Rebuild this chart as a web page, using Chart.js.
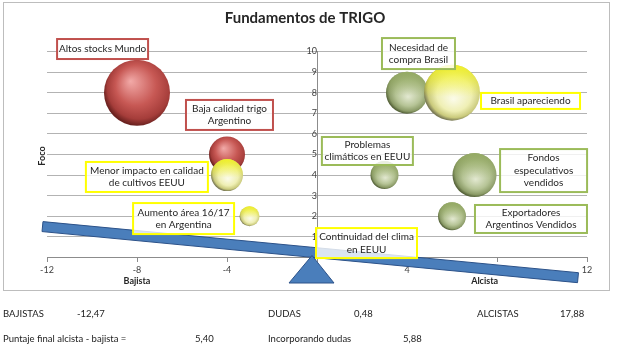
<!DOCTYPE html>
<html>
<head>
<meta charset="utf-8">
<script src="https://cdn.jsdelivr.net/npm/chart.js@4.4.0/dist/chart.umd.min.js"></script>
<style>
  body { margin: 0; background: #fff; }
  #wrap { position: relative; width: 640px; height: 346px; }
  #grafico { position: absolute; left: 0; top: 0; }
  .t { position: absolute; font-family: Lato, "Open Sans", sans-serif; font-size: 9.5px; color: #222; white-space: nowrap; line-height: 12px; }
</style>
</head>
<body>
<div id="wrap">
  <canvas id="grafico" width="640" height="346"></canvas>
  <div class="t" style="left:3px;top:308px">BAJISTAS</div>
  <div class="t" style="left:77px;top:308px">-12,47</div>
  <div class="t" style="left:268px;top:308px">DUDAS</div>
  <div class="t" style="left:354px;top:308px">0,48</div>
  <div class="t" style="left:477px;top:308px">ALCISTAS</div>
  <div class="t" style="left:560px;top:308px">17,88</div>
  <div class="t" style="left:3px;top:333px">Puntaje final alcista - bajista =</div>
  <div class="t" style="left:195px;top:333px">5,40</div>
  <div class="t" style="left:268px;top:333px">Incorporando dudas</div>
  <div class="t" style="left:403px;top:333px">5,88</div>
</div>
<script>
// datos por color (rojo = bajista, amarillo = dudas, verde = alcista)
const nombresRojo = ['Altos stocks Mundo', 'Baja calidad trigo\nArgentino'];
const xRojo = [-8, -4];
const yRojo = [8, 5];
const rRojo = [33, 18];

const nombresAmarillo = ['Menor impacto en calidad\nde cultivos EEUU', 'Aumento área 16/17\nen Argentina', 'Continuidad del clima\nen EEUU', 'Brasil apareciendo'];
const xAmarillo = [-4, -3, 0, 6];
const yAmarillo = [4, 2, 0, 8];
const rAmarillo = [16, 10, 0, 28];

const nombresVerde = ['Necesidad de\ncompra Brasil', 'Problemas\nclimáticos en EEUU', 'Fondos\nespeculativos\nvendidos', 'Exportadores\nArgentinos Vendidos'];
const xVerde = [4, 3, 7, 6];
const yVerde = [8, 4, 4, 2];
const rVerde = [21, 14, 22, 14];

// cajas de texto: centro (en valores del grafico), ancho y alto en px
const cajasRojo = [[-9.53, 10.12, 91, 20], [-3.89, 6.92, 87, 30]];
const cajasAmarillo = [[-7.56, 3.91, 122, 30], [-5.93, 1.89, 101, 31], [2.2, 0.7, 101, 30], [9.49, 7.6, 99, 16]];
const cajasVerde = [[4.51, 9.9, 73, 31], [2.24, 5.17, 91, 28], [10.07, 4.22, 87, 43], [9.51, 1.87, 112, 28]];

const FUENTE = 'Lato, "Open Sans", sans-serif';

function puntos(xs, ys, rs) {
    return xs.map(function(v, i) { return { x: v, y: ys[i], r: rs[i] }; });
}

// esfera 3D con gradiente radial
function esfera(colores, fx, fy) {
    return function(ctx) {
        if (ctx.type !== 'data') return colores[1];
        let ch = ctx.chart;
        if (!ch.scales.x || !ch.scales.y) return colores[1];
        let cx = ch.scales.x.getPixelForValue(ctx.raw.x);
        let cy = ch.scales.y.getPixelForValue(ctx.raw.y);
        let r = ctx.raw.r || 1;
        if (!isFinite(cx) || !isFinite(cy)) return colores[1];
        let g = ch.ctx.createRadialGradient(cx + r * fx, cy + r * fy, 0, cx + r * 0.1, cy - r * 0.12, r * 1.12);
        g.addColorStop(0, colores[0]);
        g.addColorStop(0.55, colores[1]);
        g.addColorStop(0.85, colores[2]);
        g.addColorStop(1, colores[3]);
        return g;
    };
}

const series = [
    { nombres: nombresAmarillo, cajas: cajasAmarillo, borde: '#ffff00', tope: '245,245,30',
      data: puntos(xAmarillo, yAmarillo, rAmarillo), bg: esfera(['#fbfbe8', '#efefb4', '#caca7c', '#7c7c56'], 0.05, 0.25) },
    { nombres: nombresVerde, cajas: cajasVerde, borde: '#9bbb59', tope: '150,172,100',
      data: puntos(xVerde, yVerde, rVerde), bg: esfera(['#e2e8d0', '#b6c496', '#8c9c68', '#56633a'], 0.05, 0.2) },
    { nombres: nombresRojo, cajas: cajasRojo, borde: '#c0504d', tope: '',
      data: puntos(xRojo, yRojo, rRojo), bg: esfera(['#f2aaa8', '#c75854', '#a53d3a', '#6a211f'], -0.2, -0.35) }
];

const dibujos = {
    id: 'dibujos',
    beforeDraw(chart) {
        let c = chart.ctx;
        c.save();
        c.fillStyle = '#fff';
        c.fillRect(0, 0, chart.width, chart.height);
        c.strokeStyle = '#bdbdbd';
        c.lineWidth = 1;
        c.strokeRect(3.5, 2.5, 606, 288);
        c.restore();
    },
    // brillo de color en la parte de arriba de cada esfera
    afterDatasetDraw(chart, args) {
        let s = series[args.index];
        if (!s.tope) return;
        let c = chart.ctx;
        c.save();
        args.meta.data.forEach(function(el) {
            let r = el.options.radius;
            if (!r) return;
            let g = c.createLinearGradient(0, el.y - r, 0, el.y + r * 0.15);
            g.addColorStop(0, 'rgba(' + s.tope + ',0.9)');
            g.addColorStop(1, 'rgba(' + s.tope + ',0)');
            c.beginPath();
            c.arc(el.x, el.y, r, 0, Math.PI * 2);
            c.fillStyle = g;
            c.fill();
        });
        c.restore();
    },
    afterDraw(chart) {
        let c = chart.ctx;
        let sx = chart.scales.x, sy = chart.scales.y;
        c.save();

        // balanza: tabla inclinada
        let x1 = sx.getPixelForValue(-12.2), y1 = sy.getPixelForValue(1.5);
        let x2 = sx.getPixelForValue(11.6), y2 = sy.getPixelForValue(-0.98);
        let ang = Math.atan2(y2 - y1, x2 - x1);
        let dx = Math.sin(ang) * 5, dy = Math.cos(ang) * 5;
        c.beginPath();
        c.moveTo(x1 + dx, y1 - dy);
        c.lineTo(x2 + dx, y2 - dy);
        c.lineTo(x2 - dx, y2 + dy);
        c.lineTo(x1 - dx, y1 + dy);
        c.closePath();
        c.fillStyle = '#4a7ebb';
        c.fill();
        c.strokeStyle = '#2c5289';
        c.lineWidth = 1;
        c.stroke();

        // triangulo
        let ox = sx.getPixelForValue(0), oy = sy.getPixelForValue(0);
        c.beginPath();
        c.moveTo(ox - 5, oy - 2);
        c.lineTo(ox + 17, oy + 25.5);
        c.lineTo(ox - 28, oy + 25.5);
        c.closePath();
        c.fillStyle = '#4a7ebb';
        c.fill();
        c.strokeStyle = '#2c5289';
        c.stroke();

        // cajas de texto
        c.font = '10px ' + FUENTE;
        c.textAlign = 'center';
        c.textBaseline = 'middle';
        series.forEach(function(s) {
            s.cajas.forEach(function(b, i) {
                let cx = sx.getPixelForValue(b[0]), cy = sy.getPixelForValue(b[1]);
                let w = b[2], h = b[3];
                c.fillStyle = 'rgba(255,255,255,0.8)';
                c.fillRect(cx - w / 2, cy - h / 2, w, h);
                c.strokeStyle = s.borde;
                c.lineWidth = 2;
                c.strokeRect(cx - w / 2, cy - h / 2, w, h);
                let lineas = s.nombres[i].split('\n');
                c.fillStyle = '#262626';
                lineas.forEach(function(l, k) {
                    c.fillText(l, cx, cy + (k - (lineas.length - 1) / 2) * 12.5);
                });
            });
        });

        // titulos de ejes
        c.fillStyle = '#262626';
        c.font = 'bold 9px ' + FUENTE;
        c.fillText('Bajista', sx.getPixelForValue(-8), 281);
        c.fillText('Alcista', sx.getPixelForValue(7.45), 281);
        c.save();
        c.translate(42, 156);
        c.rotate(-Math.PI / 2);
        c.fillText('Foco', 0, 0);
        c.restore();

        // titulo
        c.font = 'bold 15px ' + FUENTE;
        c.fillText('Fundamentos de TRIGO', 305, 18);
        c.restore();
    }
};

const grafico = new Chart(document.getElementById('grafico'), {
    type: 'bubble',
    data: {
        datasets: series.map(function(s) {
            return { data: s.data, backgroundColor: s.bg, borderWidth: 0, hoverRadius: 0 };
        })
    },
    options: {
        responsive: false,
        animation: false,
        events: [],
        layout: { padding: { left: 47, right: 53, top: 51.5, bottom: 88.5 } },
        plugins: { legend: { display: false }, tooltip: { enabled: false } },
        scales: {
            x: {
                type: 'linear',
                position: { y: 0 },
                min: -12, max: 12,
                ticks: { stepSize: 4, font: { size: 9, family: FUENTE }, color: '#404040', padding: 3 },
                grid: { drawOnChartArea: false, tickLength: 4, color: '#8c8c8c' },
                border: { color: '#8c8c8c' }
            },
            y: {
                type: 'linear',
                position: { x: 0 },
                min: 0, max: 10,
                ticks: { stepSize: 1, font: { size: 9, family: FUENTE }, color: '#404040', padding: 2 },
                grid: { color: '#b3b3b3', tickLength: 4 },
                border: { color: '#8c8c8c' }
            }
        }
    },
    plugins: [dibujos]
});
</script>
</body>
</html>
